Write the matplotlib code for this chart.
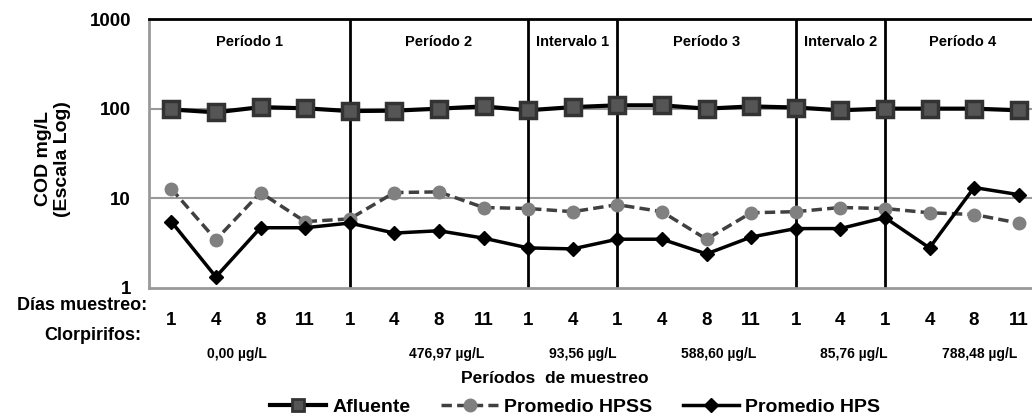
import matplotlib
matplotlib.use("Agg")
import matplotlib.pyplot as plt
from matplotlib.lines import Line2D

plt.rcParams['font.family'] = ['Liberation Sans', 'DejaVu Sans']

dias = ["1", "4", "8", "11", "1", "4", "8", "11", "1", "4",
        "1", "4", "8", "11", "1", "4", "1", "4", "8", "11"]
afluente = [98, 91, 104, 101, 94, 95, 100, 106, 96, 104,
            109, 109, 100, 106, 103, 96, 100, 100, 100, 96]
hpss = [12.8, 3.45, 11.6, 5.5, 5.9, 11.6, 11.8, 7.9, 7.7, 7.1,
        8.5, 7.1, 3.5, 6.9, 7.1, 7.9, 7.7, 6.9, 6.6, 5.3]
hps = [5.5, 1.33, 4.7, 4.7, 5.3, 4.1, 4.35, 3.6, 2.8, 2.73,
       3.5, 3.5, 2.4, 3.7, 4.6, 4.6, 6.1, 2.8, 13.2, 11.0]
periodos = ["Período 1", "Período 2", "Intervalo 1", "Período 3", "Intervalo 2", "Período 4"]
divisores = [4, 8, 10, 14, 16]
clorpirifos = ["0,00 µg/L", "476,97 µg/L", "93,56 µg/L", "588,60 µg/L", "85,76 µg/L", "788,48 µg/L"]
clor_pos = [1.46, 6.17, 9.22, 12.27, 15.3, 18.12]

fig = plt.figure(figsize=(10.32, 4.19), dpi=100)
ax = fig.add_axes([149/1032, 131/419, (1041-149)/1032, (288-19)/419])

x = list(range(len(dias)))
ax.set_yscale('log')
ax.set_ylim(1, 1000)
ax.set_xlim(-0.5, len(dias) - 0.5)

for yv in [10, 100]:
    ax.axhline(yv, color='#999999', lw=1.5, zorder=1)
for d in divisores:
    ax.axvline(d, color='black', lw=2, zorder=2)

ax.plot(x, afluente, color='black', lw=3, marker='s', markersize=11,
        markerfacecolor='#555555', markeredgecolor='#333333', markeredgewidth=2.5, zorder=5)
ax.plot(x, hpss, color='#404040', lw=2.5, ls=(0, (3, 1.5)), marker='o', markersize=9,
        markerfacecolor='#808080', markeredgecolor='#808080', zorder=4)
ax.plot(x, hps, color='black', lw=2.5, marker='D', markersize=7,
        markerfacecolor='black', markeredgecolor='black', zorder=4)

# period labels
bounds = [-0.5] + divisores + [len(dias) - 0.5]
for i, lab in enumerate(periodos):
    c = (bounds[i] + bounds[i + 1]) / 2
    ax.text(c, 10 ** 2.74, lab, ha='center', va='center', fontsize=10.5, fontweight='bold')

for s in ['left', 'bottom']:
    ax.spines[s].set_color('#999999')
    ax.spines[s].set_linewidth(2)
ax.spines['top'].set_color('black')
ax.spines['top'].set_linewidth(2)
ax.spines['right'].set_visible(False)

ax.set_yticks([1, 10, 100, 1000])
ax.set_yticklabels(["1", "10", "100", "1000"], fontsize=13.5, fontweight='bold')
ax.minorticks_off()
ax.tick_params(axis='y', length=0, pad=13)
ax.set_xticks(x)
ax.set_xticklabels(dias, fontsize=13.5, fontweight='bold')
ax.tick_params(axis='x', length=0, pad=17)

fig.text(53/1032, 1 - 159/419, "COD mg/L\n(Escala Log)", rotation=90, ha='center', va='center',
         fontsize=14, fontweight='bold', linespacing=1.1, multialignment='center')

trans = ax.get_xaxis_transform()
fig.text(147/1032, 1 - 306/419, "Días muestreo:", ha='right', va='center', fontsize=13, fontweight='bold')
fig.text(141/1032, 1 - 335/419, "Clorpirifos:", ha='right', va='center', fontsize=13, fontweight='bold')
for p, lab in zip(clor_pos, clorpirifos):
    ax.text(p, -0.245, lab, transform=trans, ha='center', va='center', fontsize=10, fontweight='bold')
ax.text(8.6, -0.335, "Períodos  de muestreo", transform=trans, ha='center', va='center',
        fontsize=12.5, fontweight='bold')

handles = [
    Line2D([], [], color='black', lw=3, marker='s', markersize=9, markerfacecolor='#555555',
           markeredgecolor='#333333', markeredgewidth=2),
    Line2D([], [], color='#404040', lw=2.5, ls=(0, (3, 1.5)), marker='o', markersize=9,
           markerfacecolor='#808080', markeredgecolor='#808080'),
    Line2D([], [], color='black', lw=2.5, marker='D', markersize=7, markerfacecolor='black'),
]
fig.legend(handles, ["Afluente", "Promedio HPSS", "Promedio HPS"], loc='center',
           bbox_to_anchor=(575/1032, 1 - 407/419), ncol=3, frameon=False,
           prop={'size': 14, 'weight': 'bold'}, handlelength=2.9, columnspacing=1.6,
           handletextpad=0.3)

fig.savefig("out.png", dpi=100)
